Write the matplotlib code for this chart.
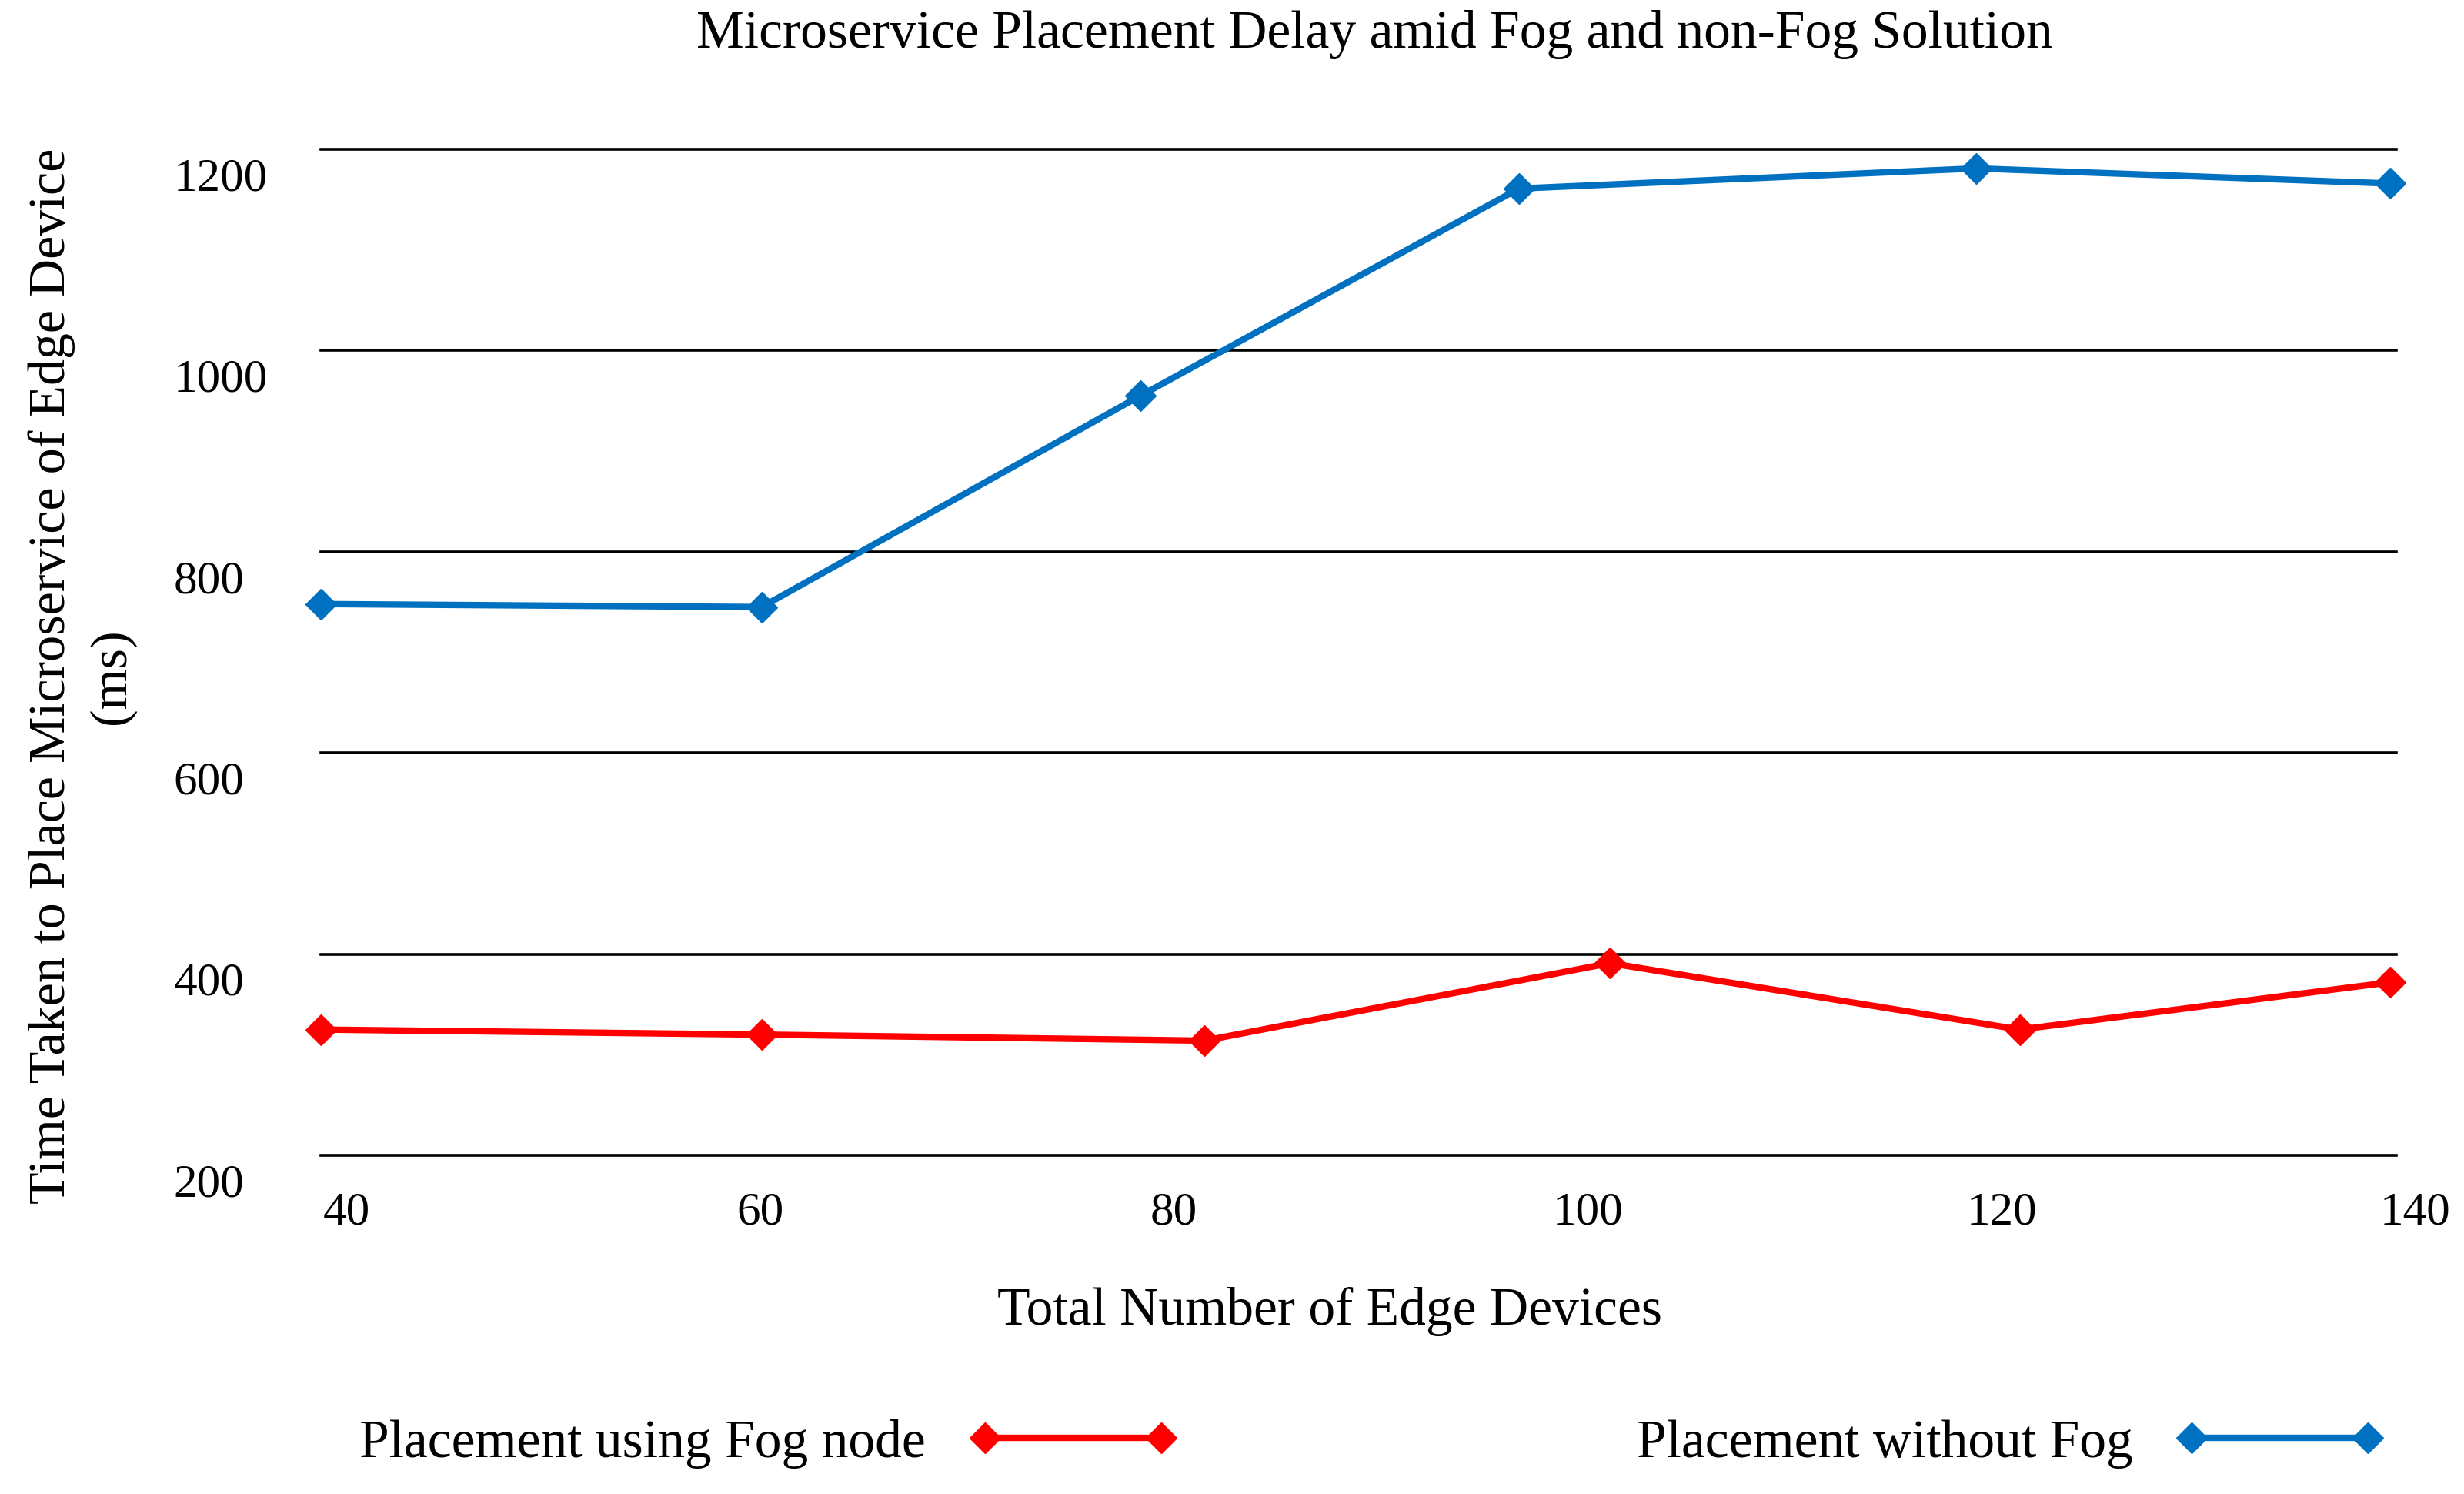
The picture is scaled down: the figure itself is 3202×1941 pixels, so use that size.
import matplotlib
matplotlib.use("Agg")
import matplotlib.pyplot as plt
import matplotlib.transforms as mtransforms
from matplotlib.lines import Line2D

plt.rcParams['font.family'] = ['Liberation Serif', 'DejaVu Serif']

# values
devices_fog = [40, 61.3, 82.7, 102.3, 122.1, 140]
delay_fog = [325, 320, 314, 391, 325, 372]
devices_nofog = [40, 61.3, 79.6, 97.9, 120.0, 140]
delay_nofog = [748, 745, 955, 1161, 1181, 1166]

x_ticks = [40, 60, 80, 100, 120, 140]
y_ticks = [200, 400, 600, 800, 1000, 1200]

red = '#FF0000'
blue = '#0070C0'
fs_tick = 44
fs = 50

fig = plt.figure(figsize=(32.02, 19.41), dpi=100)
ax = fig.add_axes([417/3202, 1 - 1501/1941, (3114-417)/3202, (1501-194)/1941])

ax.plot(devices_fog, delay_fog, color=red, lw=6, marker='D', ms=20,
        clip_on=False, zorder=3)
ax.plot(devices_nofog, delay_nofog, color=blue, lw=6, marker='D', ms=20,
        clip_on=False, zorder=3)

ax.set_xlim(40, 140.3)
ax.set_ylim(200, 1200)
ax.set_xticks(x_ticks)
ax.set_xticklabels([str(v) for v in x_ticks])
ax.set_yticks(y_ticks)
ax.set_yticklabels([str(v) for v in y_ticks])
ax.tick_params(axis='both', length=0, labelsize=fs_tick)
ax.tick_params(axis='x', pad=34)
ax.tick_params(axis='y', pad=138)
for s in ax.spines.values():
    s.set_visible(False)
ax.grid(axis='y', color='black', lw=2.6)
ax.grid(axis='x', visible=False)
for gl in ax.get_ygridlines():
    gl.set_clip_on(False)

# labels sit a bit off their gridlines in the original
for lab in ax.get_yticklabels():
    lab.set_horizontalalignment('left')
    lab.set_transform(lab.get_transform() +
                      mtransforms.ScaledTranslation(0, -0.32, fig.dpi_scale_trans))
for lab in ax.get_xticklabels():
    lab.set_transform(lab.get_transform() +
                      mtransforms.ScaledTranslation(0.33, 0, fig.dpi_scale_trans))

fig.text(875/1568, 1 - 22/950, 'Microservice Placement Delay amid Fog and non-Fog Solution',
         ha='center', va='center', fontsize=fs)
fig.text(846/1568, 1 - 834/950, 'Total Number of Edge Devices',
         ha='center', va='center', fontsize=fs)
fig.text(52/1568, 1 - 430/950, 'Time Taken to Place Microservice of Edge Device\n(ms)',
         ha='center', va='center', rotation=90, multialignment='center',
         linespacing=1.33, fontsize=49)

handles = [Line2D([], [], color=red, lw=6, marker='D', ms=20),
           Line2D([], [], color=blue, lw=6, marker='D', ms=20)]
fig.legend(handles, ['Placement using Fog node', 'Placement without Fog'],
           loc='center', bbox_to_anchor=(873/1568, 1 - 918/950), ncol=2,
           markerfirst=False, frameon=False, numpoints=2, fontsize=fs,
           handlelength=3.9, handletextpad=0.8, columnspacing=8.6)

fig.savefig('out.png', dpi=100)
